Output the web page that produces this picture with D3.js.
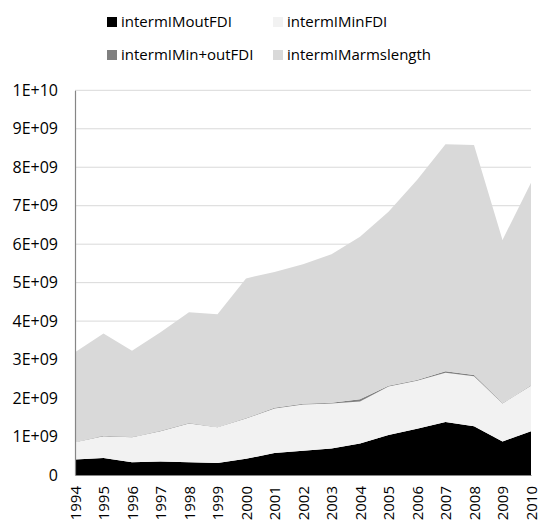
<!DOCTYPE html>
<html><head><meta charset="utf-8">
<script src="https://cdn.jsdelivr.net/npm/d3@7"></script>
<style>body{margin:0;background:#fff}svg{display:block}text{font-family:"Open Sans",sans-serif}</style>
</head><body><svg id="c" width="540" height="522"></svg>
<script>
const years = ["1994","1995","1996","1997","1998","1999","2000","2001","2002","2003","2004","2005","2006","2007","2008","2009","2010"];
const seriesNames = ["intermIMoutFDI","intermIMinFDI","intermIMin+outFDI","intermIMarmslength"];
const outFDI = [0.40,0.44,0.33,0.35,0.33,0.31,0.42,0.57,0.63,0.69,0.82,1.04,1.20,1.38,1.27,0.87,1.14];
const inFDI  = [0.45,0.57,0.65,0.79,1.01,0.93,1.05,1.16,1.20,1.17,1.09,1.26,1.25,1.28,1.30,0.99,1.18];
const inOutFDI=[0.01,0.01,0.01,0.01,0.01,0.01,0.01,0.02,0.02,0.02,0.06,0.02,0.02,0.04,0.03,0.01,0.01];
const armsLength=[2.33,2.66,2.24,2.56,2.88,2.93,3.63,3.53,3.63,3.86,4.22,4.52,5.20,5.90,5.98,4.24,5.27];
const yTicks = [0,1e9,2e9,3e9,4e9,5e9,6e9,7e9,8e9,9e9,1e10];
const yTickLabels = ["0","1E+09","2E+09","3E+09","4E+09","5E+09","6E+09","7E+09","8E+09","9E+09","1E+10"];
const colors = ["#000000","#f2f2f2","#808080","#d9d9d9"];

const scale = 1e9;
const rows = years.map((y,i)=>({year:y, s0:outFDI[i]*scale, s1:inFDI[i]*scale, s2:inOutFDI[i]*scale, s3:armsLength[i]*scale}));
const stack = d3.stack().keys(["s0","s1","s2","s3"])(rows);

const svg = d3.select("#c");
const x = d3.scalePoint().domain(years).range([75,531]);
const y = d3.scaleLinear().domain([0,1e10]).range([475,90.3]);

svg.append("g").selectAll("line").data(yTicks.slice(1)).join("line")
  .attr("x1",75).attr("x2",531).attr("y1",d=>y(d)).attr("y2",d=>y(d))
  .attr("stroke","#d9d9d9").attr("stroke-width",1);

const area = d3.area().x(d=>x(d.data.year)).y0(d=>y(d[0])).y1(d=>y(d[1]));
svg.append("g").selectAll("path").data(stack).join("path")
  .attr("d",area).attr("fill",(d,i)=>colors[i]);

const ya = svg.append("g").attr("transform","translate(75,0)")
  .call(d3.axisLeft(y).tickValues(yTicks).tickFormat((d,i)=>yTickLabels[i]).tickSize(0).tickPadding(17));
ya.select(".domain").attr("stroke","#868686").attr("stroke-width",1.2);
ya.selectAll("text").attr("font-size",16).attr("fill","#000").attr("font-family","Open Sans");

const xa = svg.append("g").attr("transform","translate(0,475)")
  .call(d3.axisBottom(x).tickSize(0).tickPadding(0));
xa.select(".domain").attr("stroke","#868686").attr("stroke-width",1);
xa.selectAll("text").attr("font-size",15).attr("fill","#000").attr("font-family","Open Sans")
  .attr("transform","rotate(-90)").attr("text-anchor","end").attr("dy","0.35em").attr("x",-11).attr("y",0);

const legPos = [[107,22],[273,22],[107,55],[273,55]];
const lg = svg.append("g").selectAll("g").data(seriesNames).join("g")
  .attr("transform",(d,i)=>`translate(${legPos[i][0]},${legPos[i][1]})`);
lg.append("rect").attr("x",0).attr("y",-5).attr("width",10).attr("height",10).attr("fill",(d,i)=>colors[i]);
lg.append("text").attr("x",14).attr("y",0).attr("dy","0.35em").attr("font-size",15).attr("fill","#000").text(d=>d);
</script></body></html>
